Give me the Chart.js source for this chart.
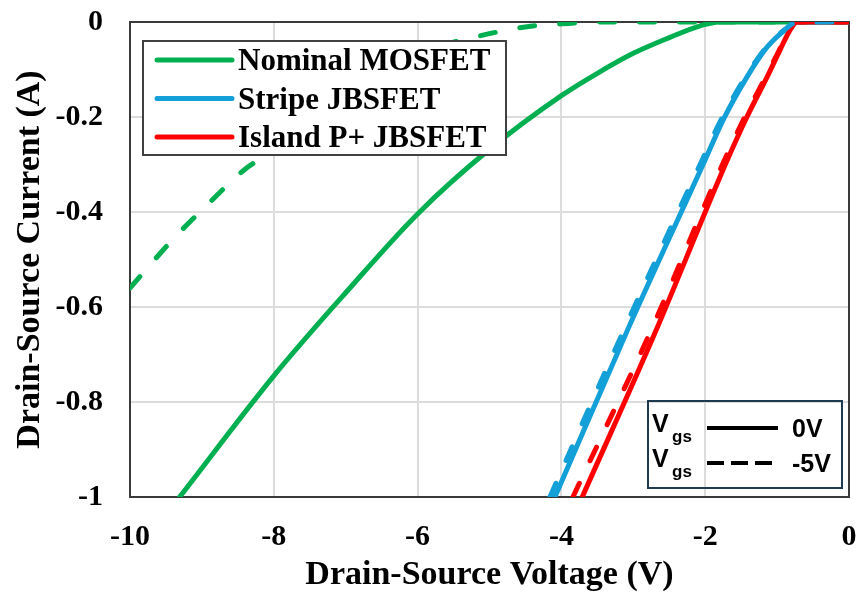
<!DOCTYPE html>
<html>
<head>
<meta charset="utf-8">
<script src="https://cdn.jsdelivr.net/npm/chart.js@4.4.1/dist/chart.umd.min.js"></script>
<style>
  html, body { margin: 0; padding: 0; background: #fff; }
</style>
</head>
<body>
<canvas id="ivChart" width="859" height="592"></canvas>
<script>
// drain-source voltage (V) / current (A)
const vNom0 = [-9.31, -8.00, -7.00, -6.00, -5.00, -4.00, -3.50, -3.00, -2.50, -2.07, -1.80, 0];
const iNom0 = [-1.000, -0.745, -0.570, -0.404, -0.268, -0.155, -0.108, -0.066, -0.033, -0.008, 0, 0];
const vNom5 = [-10.00, -9.40, -9.00, -8.40, -8.15, -7.50, -7.00, -6.50, -6.00, -5.27, -4.48, -3.90, -3.40, 0];
const iNom5 = [-0.560, -0.457, -0.396, -0.310, -0.284, -0.200, -0.145, -0.100, -0.065, -0.034, -0.010, -0.003, 0, 0];

const vStripe0 = [-4.09, -3.07, -2.00, -1.75, -1.42, -1.14, -0.86, -0.72, 0];
const iStripe0 = [-1.000, -0.645, -0.290, -0.206, -0.116, -0.053, -0.013, 0, 0];
const vStripe5 = [-4.16, -3.12, -2.04, -1.78, -1.44, -1.15, -0.87, -0.72, 0];
const iStripe5 = [-1.000, -0.645, -0.290, -0.206, -0.116, -0.053, -0.013, 0, 0];

const vIsland0 = [-3.71, -2.68, -1.72, -1.42, -1.14, -0.96, -0.82, -0.72, 0];
const iIsland0 = [-1.000, -0.648, -0.300, -0.200, -0.116, -0.059, -0.017, 0, 0];
const vIsland5 = [-3.84, -2.75, -1.76, -1.45, -1.16, -0.97, -0.83, -0.72, 0];
const iIsland5 = [-1.000, -0.648, -0.300, -0.200, -0.116, -0.059, -0.017, 0, 0];

const seriesNames = ['Nominal MOSFET', 'Stripe JBSFET', 'Island P+ JBSFET'];
const seriesColors = ['#00b050', '#139fd8', '#ff0000'];
const gateLabels = ['0V', '-5V'];
const xTicks = [-10, -8, -6, -4, -2, 0];
const yTicks = [0, -0.2, -0.4, -0.6, -0.8, -1];

const SERIF = '"Liberation Serif", "Times New Roman", serif';
const SANS = '"Liberation Sans", Arial, sans-serif';
const DASH = [15, 25];

const pts = (xs, ys) => xs.map((x, i) => ({ x, y: ys[i] }));
const line = (label, xs, ys, color, dashed) => ({
  label, data: pts(xs, ys),
  borderColor: color, borderWidth: 5, borderDash: dashed ? DASH : [],
  borderCapStyle: 'round', borderJoinStyle: 'round',
  pointRadius: 0, showLine: true, fill: false,
  cubicInterpolationMode: 'monotone'
});

// first dataset is drawn on top
const datasets = [
  line(seriesNames[1] + ' -5V', vStripe5, iStripe5, seriesColors[1], true),
  line(seriesNames[2] + ' 0V', vIsland0, iIsland0, seriesColors[2], false),
  line(seriesNames[2] + ' -5V', vIsland5, iIsland5, seriesColors[2], true),
  line(seriesNames[1] + ' 0V', vStripe0, iStripe0, seriesColors[1], false),
  line(seriesNames[0] + ' -5V', vNom5, iNom5, seriesColors[0], true),
  line(seriesNames[0] + ' 0V', vNom0, iNom0, seriesColors[0], false)
];

const frame = {
  id: 'frame',
  beforeDatasetsDraw(chart) {
    const { ctx, chartArea: a } = chart;
    ctx.save();
    ctx.strokeStyle = '#3a3a3a';
    ctx.lineWidth = 2;
    ctx.strokeRect(a.left, a.top, a.right - a.left, a.bottom - a.top);
    ctx.restore();
  }
};

const legends = {
  id: 'legends',
  afterDatasetsDraw(chart) {
    const { ctx, chartArea: a } = chart;
    ctx.save();
    // series legend, top left
    const bx = a.left + 13, by = a.top + 19;
    ctx.fillStyle = '#fff';
    ctx.fillRect(bx, by, 363, 114);
    ctx.strokeStyle = '#404040';
    ctx.lineWidth = 2;
    ctx.strokeRect(bx, by, 363, 114);
    ctx.font = 'bold 31px ' + SERIF;
    ctx.textBaseline = 'middle';
    ctx.lineCap = 'round';
    seriesNames.forEach((name, i) => {
      const y = by + 19 + i * 38.5;
      ctx.strokeStyle = seriesColors[i];
      ctx.lineWidth = 5;
      ctx.beginPath(); ctx.moveTo(bx + 14, y); ctx.lineTo(bx + 89, y); ctx.stroke();
      ctx.fillStyle = '#000';
      ctx.fillText(name, bx + 95, y + 2);
    });
    // gate-voltage key, bottom right
    const kx = a.right - 201, ky = a.bottom - 96;
    ctx.strokeStyle = '#1e3a4e';
    ctx.lineWidth = 2;
    ctx.strokeRect(kx, ky, 194, 87);
    ctx.textBaseline = 'alphabetic';
    ctx.lineCap = 'butt';
    gateLabels.forEach((g, i) => {
      const base = ky + 31 + i * 35;
      ctx.fillStyle = '#000';
      ctx.font = 'bold 25px ' + SANS;
      ctx.fillText('V', kx + 4, base);
      ctx.font = 'bold 17px ' + SANS;
      ctx.fillText('gs', kx + 24, base + 10);
      ctx.strokeStyle = '#000';
      ctx.lineWidth = 4;
      ctx.setLineDash(i === 0 ? [] : [17, 7]);
      ctx.beginPath(); ctx.moveTo(kx + 59, base - 4); ctx.lineTo(kx + 130, base - 4); ctx.stroke();
      ctx.setLineDash([]);
      ctx.font = 'bold 25px ' + SANS;
      ctx.fillText(g, kx + 144, base + 5);
    });
    ctx.restore();
  }
};

const tickFont = { family: SERIF, size: 30, weight: 'bold' };
const titleFont = { family: SERIF, size: 34, weight: 'bold', lineHeight: 1 };

new Chart(document.getElementById('ivChart'), {
  type: 'scatter',
  data: { datasets },
  options: {
    responsive: false,
    animation: false,
    layout: { padding: { top: 22, right: 10, left: 0, bottom: 0 } },
    plugins: { legend: { display: false }, tooltip: { enabled: false } },
    scales: {
      x: {
        type: 'linear', min: -10, max: 0,
        afterBuildTicks: (s) => { s.ticks = xTicks.map((v) => ({ value: v })); },
        afterFit: (s) => { s.height = 95; s.paddingLeft = 0; s.paddingRight = 0; },
        ticks: { color: '#000', padding: 22, font: tickFont, callback: (v) => String(v) },
        grid: { color: '#dcdcdc', lineWidth: 2, drawTicks: false },
        border: { display: false },
        title: { display: true, text: 'Drain-Source Voltage (V)', color: '#000', font: titleFont, padding: { top: 0, bottom: 0 } }
      },
      y: {
        type: 'linear', min: -1, max: 0,
        afterBuildTicks: (s) => { s.ticks = yTicks.map((v) => ({ value: v })); },
        afterFit: (s) => { s.width = 130; s.paddingTop = 0; s.paddingBottom = 0; },
        ticks: { color: '#000', padding: 27, font: tickFont, callback: (v) => String(v) },
        grid: { color: '#dcdcdc', lineWidth: 2, drawTicks: false },
        border: { display: false },
        title: { display: true, text: 'Drain-Source Current (A)', color: '#000', font: titleFont, padding: { top: 13, bottom: 0 } }
      }
    }
  },
  plugins: [frame, legends]
});
</script>
</body>
</html>
